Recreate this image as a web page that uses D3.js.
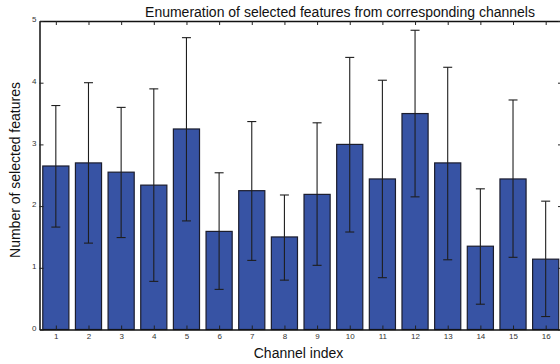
<!DOCTYPE html>
<html>
<head>
<meta charset="utf-8">
<script src="https://cdn.jsdelivr.net/npm/d3@7"></script>
<style>
  body { margin: 0; background: #fff; }
  svg { font-family: "Liberation Sans", Arial, sans-serif; }
</style>
</head>
<body>
<svg id="svg"></svg>
<script>
let width = 560, height = 364;
let margin = { top: 21, right: -2, bottom: 34.5, left: 39.5 };

// channel data
let channels = [1, 2, 3, 4, 5, 6, 7, 8, 9, 10, 11, 12, 13, 14, 15, 16];
let means = [2.65, 2.70, 2.55, 2.34, 3.25, 1.59, 2.25, 1.50, 2.19, 3.00, 2.44, 3.50, 2.70, 1.35, 2.44, 1.14];
let upper = [3.63, 4.00, 3.60, 3.90, 4.73, 2.54, 3.37, 2.18, 3.35, 4.41, 4.04, 4.85, 4.25, 2.28, 3.72, 2.08];
let lower = [1.66, 1.40, 1.49, 0.78, 1.76, 0.65, 1.12, 0.80, 1.04, 1.58, 0.84, 2.15, 1.13, 0.41, 1.17, 0.21];
let yTicks = [0, 1, 2, 3, 4, 5];

let svg = d3.select("#svg").attr("width", width).attr("height", height);

let x0 = margin.left, x1 = width - margin.right;
let y0 = height - margin.bottom, y1 = margin.top;

let xScale = d3.scaleLinear().domain([0.5, 16.5]).range([x0, x1]);
let yScale = d3.scaleLinear().domain([0, 5]).range([y0, y1]);
let bw = (xScale(1) - xScale(0)) * 0.8;

let data = channels.map((c, i) => ({ c: c, m: means[i], hi: upper[i], lo: lower[i] }));

let container = svg.append("g");

// bars
container.selectAll("rect.bar")
  .data(data)
  .join("rect")
  .attr("class", "bar")
  .attr("x", d => xScale(d.c) - bw / 2)
  .attr("y", d => yScale(d.m))
  .attr("width", bw)
  .attr("height", d => yScale(0) - yScale(d.m))
  .attr("fill", "#3753a4")
  .attr("stroke", "#1b1d2e")
  .attr("stroke-width", 1.2);

// error bars
let err = container.selectAll("g.err").data(data).join("g").attr("class", "err")
  .attr("stroke", "#1e1e1e").attr("stroke-width", 1.1);
err.append("line")
  .attr("x1", d => xScale(d.c)).attr("x2", d => xScale(d.c))
  .attr("y1", d => yScale(d.lo)).attr("y2", d => yScale(d.hi));
err.append("line")
  .attr("x1", d => xScale(d.c) - 4.5).attr("x2", d => xScale(d.c) + 4.5)
  .attr("y1", d => yScale(d.hi)).attr("y2", d => yScale(d.hi));
err.append("line")
  .attr("x1", d => xScale(d.c) - 4.5).attr("x2", d => xScale(d.c) + 4.5)
  .attr("y1", d => yScale(d.lo)).attr("y2", d => yScale(d.lo));

// axes (ticks inward, like matlab)
let xAxis = svg.append("g").attr("transform", `translate(0, ${y0})`)
  .call(d3.axisBottom(xScale).tickValues(channels).tickSizeInner(-4).tickSizeOuter(0).tickPadding(4));
let xTop = svg.append("g").attr("transform", `translate(0, ${y1})`)
  .call(d3.axisTop(xScale).tickValues(channels).tickSizeInner(-4).tickSizeOuter(0).tickFormat(""));
let yAxis = svg.append("g").attr("transform", `translate(${x0}, 0)`)
  .call(d3.axisLeft(yScale).tickValues(yTicks).tickFormat(d3.format("d")).tickSizeInner(-4).tickSizeOuter(0).tickPadding(3));
let yRight = svg.append("g").attr("transform", `translate(${x1}, 0)`)
  .call(d3.axisRight(yScale).tickValues(yTicks).tickSizeInner(-4).tickSizeOuter(0).tickFormat(""));

[xAxis, xTop, yAxis, yRight].forEach(a => {
  a.select(".domain").attr("stroke", "#111").attr("stroke-width", 1.5);
  a.selectAll(".tick line").attr("stroke", "#222").attr("stroke-width", 1);
  a.selectAll(".tick text").attr("font-size", 8).attr("fill", "#333").attr("font-family", "Liberation Sans, Arial, sans-serif");
});
yAxis.selectAll(".tick text").attr("dy", "0.1em");

// labels
svg.append("text")
  .attr("x", 340).attr("y", 17)
  .attr("text-anchor", "middle")
  .attr("font-size", 14).attr("fill", "#111")
  .text("Enumeration of selected features from corresponding channels");

svg.append("text")
  .attr("x", 298.5).attr("y", 358)
  .attr("text-anchor", "middle")
  .attr("font-size", 14).attr("fill", "#111")
  .text("Channel index");

svg.append("text")
  .attr("transform", `translate(20, 170) rotate(-90)`)
  .attr("text-anchor", "middle")
  .attr("font-size", 14).attr("fill", "#111")
  .text("Number of selected features");
</script>
</body>
</html>
